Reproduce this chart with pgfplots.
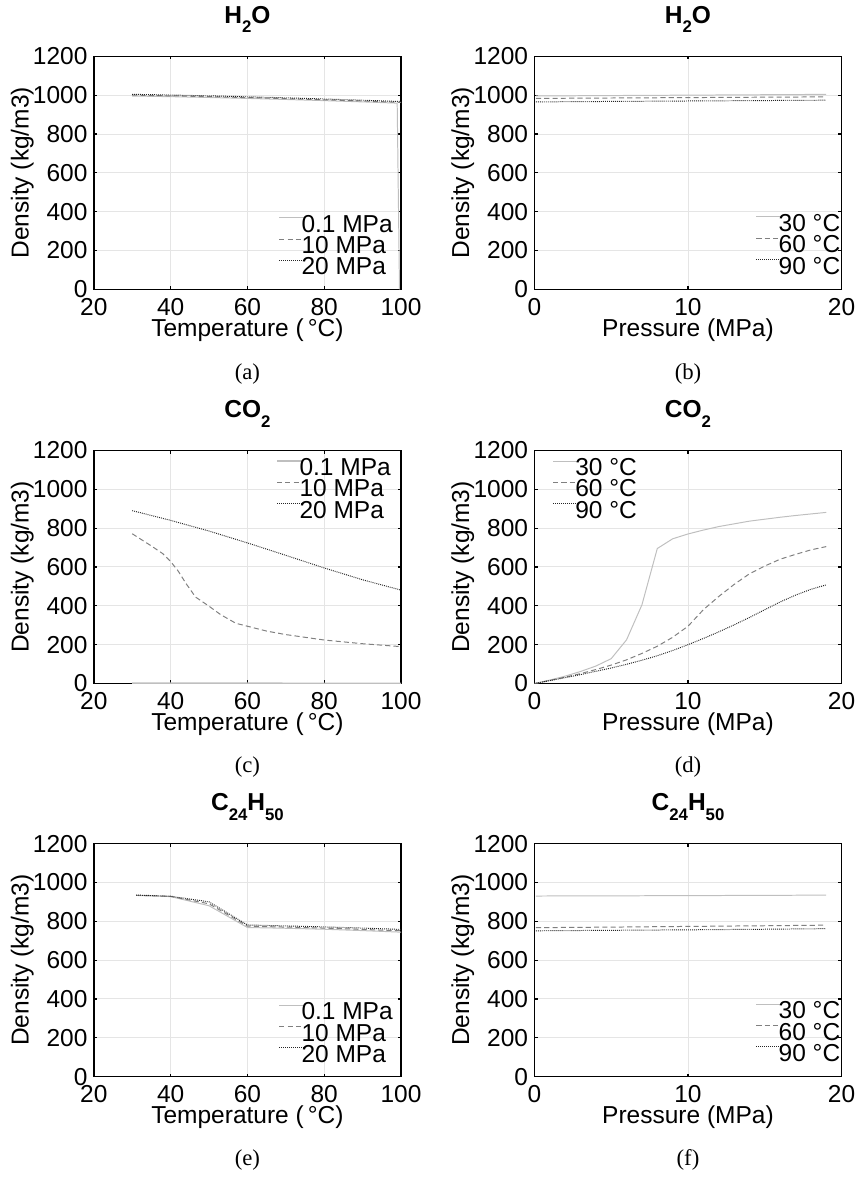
\documentclass[border=0pt]{standalone}
\usepackage{fontspec}
\setmainfont{Liberation Sans}
\newfontfamily\capfont{Liberation Serif}
\usepackage{pgfplots}
\pgfplotsset{compat=1.18}
\definecolor{cA}{gray}{0.75}
\definecolor{cB}{gray}{0.5}
\definecolor{cC}{gray}{0.15}
\definecolor{gridc}{gray}{0.9}
\newcommand\fs{\fontsize{12.4}{14}\selectfont}
\newcommand\sub[1]{\raisebox{-4.7pt}{\fontsize{8.5}{9.5}\selectfont #1}}

\pgfplotsset{
 panel/.style={
  scale only axis, width=155.5pt, height=118pt, anchor=north west,
  ymin=0, ymax=1200, ytick={0,200,400,600,800,1000,1200},
  grid=major, major grid style={draw=gridc, line width=0.5pt},
  tick align=inside, major tick length=1.6pt,
  major tick style={black, line width=0.6pt},
  axis line style={black, line width=0.7pt},
  /pgf/number format/assume math mode=true,
  /pgf/number format/1000 sep={},
  ticklabel style={font=\fs},
  label style={font=\fs},
  xticklabel style={anchor=base, yshift=-13pt},
  yticklabel style={xshift=0.3pt},
  ylabel={Density (kg/m3)},
  ylabel style={at={([xshift=-33pt]axis description cs:0,0.5)}, anchor=base},
  xlabel style={at={([yshift=-23.7pt]axis description cs:0.5,0)}, anchor=base},
  title style={font=\fs\bfseries, at={([yshift=10.5pt]axis description cs:0.5,1)}, anchor=base},
  legend style={draw=none, fill=none, font=\fs, inner sep=0pt, row sep=0.6pt, column sep=-1.5pt, nodes={inner sep=0pt}},
  legend cell align=left,
  legend image code/.code={\draw[#1] (0pt,3.8pt) -- (12.5pt,3.8pt);},
  every axis plot/.append style={line width=0.5pt},
  scaled ticks=false,
 },
 tpanel/.style={panel, xmin=20, xmax=100, xtick={20,40,60,80,100}, xlabel={Temperature (\,°C)}},
 ppanel/.style={panel, xmin=0, xmax=20, xtick={0,10,20}, xlabel={Pressure (MPa)}},
 sA/.style={draw=cA, solid},
 sB/.style={draw=cB, dash pattern=on 2.6pt off 1.6pt},
 sC/.style={draw=cC, dash pattern=on 0.45pt off 0.55pt},
 legBR/.style={legend style={at={(1,0)}, anchor=south east, xshift=-4pt, yshift=5.6pt}},
 legBRb/.style={legend style={at={(1,0)}, anchor=south east, xshift=-0.5pt, yshift=6.1pt}},
}

\begin{document}
\begin{tikzpicture}
\path (0,0) rectangle (434pt,-588.5pt);

% (a)
\begin{axis}[tpanel, at={(47.5pt,-24pt)}, title={H\sub{2}O}, legBR]
\addplot[sA] coordinates {(30,995.6) (40,992.2) (50,988.0) (60,983.2) (70,977.8) (80,971.8) (90,965.3) (99,959.0) (99.6,0.6)};
\addplot[sB] coordinates {(30,999.9) (40,996.5) (50,992.3) (60,987.4) (70,982.0) (80,976.0) (90,969.6) (100,962.9)};
\addplot[sC] coordinates {(30,1004.2) (40,1000.7) (50,996.5) (60,991.6) (70,986.2) (80,980.2) (90,973.9) (100,967.2)};
\legend{0.1 MPa,10 MPa,20 MPa}
\end{axis}

% (b)
\begin{axis}[ppanel, at={(270.5pt,-24pt)}, title={H\sub{2}O}, legBRb]
\addplot[sA] coordinates {(0.1,995.7) (5,997.9) (10,1000.0) (15,1002.2) (19,1004.0)};
\addplot[sB] coordinates {(0.1,983.2) (5,985.3) (10,987.4) (15,989.5) (19,991.1)};
\addplot[sC] coordinates {(0.1,965.3) (5,967.6) (10,969.9) (15,972.2) (19,974.0)};
\legend{30 °C,60 °C,90 °C}
\end{axis}

% (c)
\begin{axis}[tpanel, at={(47.5pt,-223.5pt)}, title={CO\sub{2}}, set layers,
  legend style={at={(1,1)}, anchor=north east, xshift=-5pt, yshift=-3.9pt}]
\addplot[sA, line width=0.75pt] coordinates {(30,1.75) (40,1.70) (50,1.65) (60,1.60) (70,1.55) (80,1.50) (90,1.46) (100,1.42)};
\addplot[sB] coordinates {(30,771) (35,708) (38,668) (40,628) (42,578) (44,515) (46.5,445) (50,398) (53,355) (57,310) (60,295) (65,270) (70,252) (80,224) (90,205) (100,190)};
\addplot[sC] coordinates {(30,890) (40,840) (50,785) (60,724) (70,660) (80,595) (90,534) (100,481)};
\legend{0.1 MPa,10 MPa,20 MPa}
\end{axis}

% (d)
\begin{axis}[ppanel, at={(270.5pt,-223.5pt)}, title={CO\sub{2}},
  legend style={at={(0,1)}, anchor=north west, xshift=9pt, yshift=-3.9pt}]
\addplot[sA] coordinates {(0,0) (1,18) (2,38) (3,62) (4,90) (5,128) (6,225) (7,405) (8,695) (9,745) (10,770) (11,790) (12,808) (13,822) (14,836) (15,846) (16,856) (17,865) (18,873) (19,881)};
\addplot[sB] coordinates {(0,0) (1,16) (2,33) (3,51) (4,72) (5,95) (6,122) (7,155) (8,192) (9,238) (10,295) (11,380) (12,448) (13,510) (14,565) (15,605) (16,640) (17,665) (18,688) (19,705)};
\addplot[sC] coordinates {(0,0) (1,15) (2,30) (3,46) (4,63) (5,80) (6,99) (7,120) (8,143) (9,170) (10,200) (11,232) (12,266) (13,302) (14,340) (15,380) (16,420) (17,455) (18,485) (19,508)};
\legend{30 °C,60 °C,90 °C}
\end{axis}

% (e)
\begin{axis}[tpanel, at={(47.5pt,-422.5pt)}, title={C\sub{24}H\sub{50}}, legBR]
\addplot[sA] coordinates {(31,933) (40,927) (50,880) (60,768) (70,764) (80,759) (90,752) (100,744)};
\addplot[sB] coordinates {(31,934) (40,928) (50,890) (60,775) (70,770) (80,765) (90,758) (100,751)};
\addplot[sC] coordinates {(31,935) (40,929) (50,900) (60,781) (70,776) (80,771) (90,765) (100,758)};
\legend{0.1 MPa,10 MPa,20 MPa}
\end{axis}

% (f)
\begin{axis}[ppanel, at={(270.5pt,-422.5pt)}, title={C\sub{24}H\sub{50}}, legBRb]
\addplot[sA] coordinates {(0.1,930) (5,931) (10,932) (15,933.5) (19,934.5)};
\addplot[sB] coordinates {(0.1,767) (5,770) (10,773.5) (15,777) (19,780)};
\addplot[sC] coordinates {(0.1,751) (5,753.5) (10,756) (15,759) (19,762)};
\legend{30 °C,60 °C,90 °C}
\end{axis}

\begin{scope}[every node/.style={font=\capfont\fontsize{11.5}{13}\selectfont, anchor=base}]
\node at (125.25pt,-187.5pt) {(a)};
\node at (348.25pt,-187.5pt) {(b)};
\node at (125.25pt,-386.5pt) {(c)};
\node at (348.25pt,-386.5pt) {(d)};
\node at (125.25pt,-585.5pt) {(e)};
\node at (348.25pt,-585.5pt) {(f)};
\end{scope}
\end{tikzpicture}
\end{document}
